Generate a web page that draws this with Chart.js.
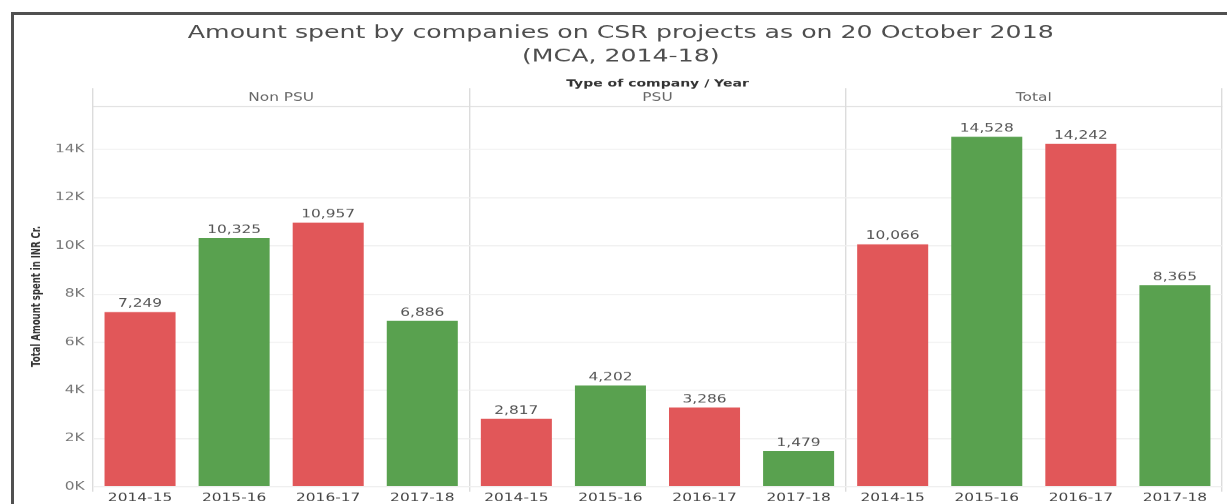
<!DOCTYPE html>
<html>
<head>
<meta charset="utf-8">
<script src="https://cdn.jsdelivr.net/npm/chart.js@4"></script>
<style>
  html, body { margin: 0; padding: 0; background: #fff; overflow: hidden; }
  #wrap { position: absolute; left: 0; top: 0; width: 1227px; height: 504px; }
  /* source picture is stretched sideways, so the chart is drawn narrow and widened */
  #chart { position: absolute; left: 0; top: 0; transform-origin: 0 0; }
  #frame {
    position: absolute; left: 11px; top: 12px; width: 1300px; height: 600px;
    border-left: 3px solid #505050; border-top: 3px solid #505050;
    pointer-events: none;
  }
</style>
</head>
<body>
<div id="wrap">
  <canvas id="chart" width="876" height="504"></canvas>
  <div id="frame"></div>
</div>
<script>
// ---------- DATA ----------
const groups = ["Non PSU", "PSU", "Total"];
const years = ["2014-15", "2015-16", "2016-17", "2017-18"];
const nonPsu = [7249, 10325, 10957, 6886];
const psu = [2817, 4202, 3286, 1479];
const total = [10066, 14528, 14242, 8365];
const yearColors = ["#e15759", "#59a14f", "#e15759", "#59a14f"];
const yTicks = [0, 2000, 4000, 6000, 8000, 10000, 12000, 14000];

const S = 1227 / 876;
const canvas = document.getElementById("chart");
canvas.style.transform = "scaleX(" + S + ")";

const labels = groups.flatMap(() => years);
const values = nonPsu.concat(psu, total);
const colors = groups.flatMap(() => yearColors);

Chart.defaults.font.family = "'DejaVu Sans', sans-serif";
Chart.defaults.color = "#666";

// ---------- VALUE LABELS ----------
const valueLabels = {
  id: "valueLabels",
  afterDatasetsDraw(chart) {
    const ctx = chart.ctx;
    const meta = chart.getDatasetMeta(0);
    ctx.save();
    ctx.font = "11px 'DejaVu Sans'";
    ctx.fillStyle = "#555";
    ctx.textAlign = "center";
    ctx.textBaseline = "middle";
    meta.data.forEach((bar, i) => {
      ctx.fillText(values[i].toLocaleString("en-US"), bar.x, bar.y - 8);
    });
    ctx.restore();
  }
};

const panelLine = (c) => (c.index === undefined || c.index % 4 === 0) ? "#dcdcdc" : "rgba(0,0,0,0)";

new Chart(canvas, {
  type: "bar",
  data: {
    labels: labels,
    datasets: [{
      data: values,
      backgroundColor: colors,
      categoryPercentage: 1,
      barPercentage: 0.755,
      xAxisID: "x",
      yAxisID: "y"
    }]
  },
  options: {
    responsive: false,
    animation: false,
    devicePixelRatio: S,
    layout: { padding: { left: 14, right: 3.6, top: 0, bottom: 0 } },
    plugins: {
      legend: { display: false },
      tooltip: { enabled: false },
      title: {
        display: true,
        text: ["Amount spent by companies on CSR projects as on 20 October 2018", "(MCA, 2014-18)"],
        color: "#4d4d4d",
        font: { size: 18, weight: "normal", lineHeight: 1.333 },
        padding: { top: 21, bottom: 0 }
      }
    },
    scales: {
      x: {
        type: "category",
        position: "bottom",
        grid: { offset: true, color: panelLine, drawTicks: true, tickLength: 5 },
        border: { display: false },
        ticks: { color: "#444", font: { size: 11 }, padding: 0, maxRotation: 0, autoSkip: false },
        afterFit(scale) { scale.height = 18; }
      },
      x2: {
        type: "category",
        position: "top",
        labels: groups,
        offset: true,
        grid: { offset: true, drawOnChartArea: false, color: "#dcdcdc", drawTicks: true, tickLength: 18 },
        border: { display: true, color: "#dcdcdc" },
        ticks: { color: "#666", font: { size: 11 }, padding: -16.6, maxRotation: 0 },
        title: {
          display: true,
          text: "Type of company / Year",
          color: "#333",
          font: { size: 10, weight: "bold" },
          padding: { top: 9, bottom: 0 }
        },
        afterFit(scale) { scale.height = 37; }
      },
      y: {
        min: 0,
        max: 15800,
        afterBuildTicks(scale) { scale.ticks = yTicks.map(v => ({ value: v })); },
        grid: { color: "#efefef", drawTicks: false },
        border: { display: false },
        ticks: {
          color: "#777",
          font: { size: 11 },
          padding: 6,
          callback: (v) => (v / 1000) + "K"
        },
        title: {
          display: true,
          text: "Total Amount spent in INR Cr.",
          color: "#333",
          font: { size: 8.5, weight: "bold" },
          padding: { top: 7.4, bottom: 0 }
        },
        afterFit(scale) { scale.width = 52.4; }
      }
    }
  },
  plugins: [valueLabels]
});
</script>
</body>
</html>
